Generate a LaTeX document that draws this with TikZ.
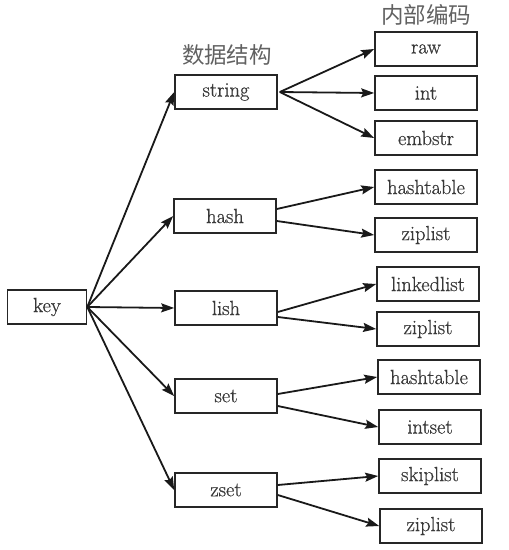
\documentclass[tikz,border=0pt]{standalone}
\usepackage{fontspec}
\newfontfamily\lserif{Latin Modern Roman}[FakeBold=0.7]
\newfontfamily\cjk{Noto Sans CJK SC}
\usetikzlibrary{arrows.meta}
\begin{document}
\begin{tikzpicture}[x=1pt,y=-1pt,
  box/.style={draw=black!85,line width=1.6pt,minimum width=102pt,minimum height=34pt,inner sep=0pt,
    font=\lserif\fontsize{20.5}{22}\selectfont,text=black!78},
  keybox/.style={box,minimum width=79pt},
  arr/.style={line width=1.8pt,black!90,-{Stealth[length=13pt,width=9pt,inset=2pt]}},
  hdr/.style={font=\cjk\fontsize{22.5}{25}\selectfont,text=black!62}]
\useasboundingbox (0,0) rectangle (509,550);
\node[keybox] (key) at (47,307) {key};
\node[box] (string) at (226,92) {string};
\node[box] (hash) at (225,216) {hash};
\node[box] (lish) at (226,308) {lish};
\node[box] (set) at (226,396) {set};
\node[box] (zset) at (226,490) {zset};
\node[box] (raw) at (426,49) {raw};
\node[box] (int) at (426,93) {int};
\node[box] (embstr) at (426,138) {embstr};
\node[box] (ht1) at (426,187) {hashtable};
\node[box] (zl1) at (426,235) {ziplist};
\node[box] (ll) at (428,284) {linkedlist};
\node[box] (zl2) at (428,329) {ziplist};
\node[box] (ht2) at (429,377) {hashtable};
\node[box] (is) at (430,427) {intset};
\node[box] (sl) at (430,476) {skiplist};
\node[box] (zl3) at (431,526) {ziplist};
\node[hdr] (h1) at (227,55) {数据结构};
\node[hdr] (h2) at (426,15) {内部编码};
\coordinate (k) at (key.east);
\foreach \t in {string,hash,lish,set,zset} \draw[arr] (k) -- (\t.west);
\coordinate (s) at ([xshift=2pt]string.east);
\foreach \t in {raw,int,embstr} \draw[arr] (s) -- (\t.west);
\draw[arr] ([yshift=7pt]hash.east) -- (ht1.west);
\draw[arr] ([yshift=-5pt]hash.east) -- (zl1.west);
\draw[arr] ([yshift=-4pt]lish.east) -- (ll.west);
\draw[arr] ([yshift=-9pt]lish.east) -- (zl2.west);
\draw[arr] ([yshift=2pt]set.east) -- (ht2.west);
\draw[arr] ([yshift=-10pt]set.east) -- (is.west);
\draw[arr] ([yshift=5pt]zset.east) -- (sl.west);
\draw[arr] ([yshift=-5pt]zset.east) -- (zl3.west);
\end{tikzpicture}
\end{document}
